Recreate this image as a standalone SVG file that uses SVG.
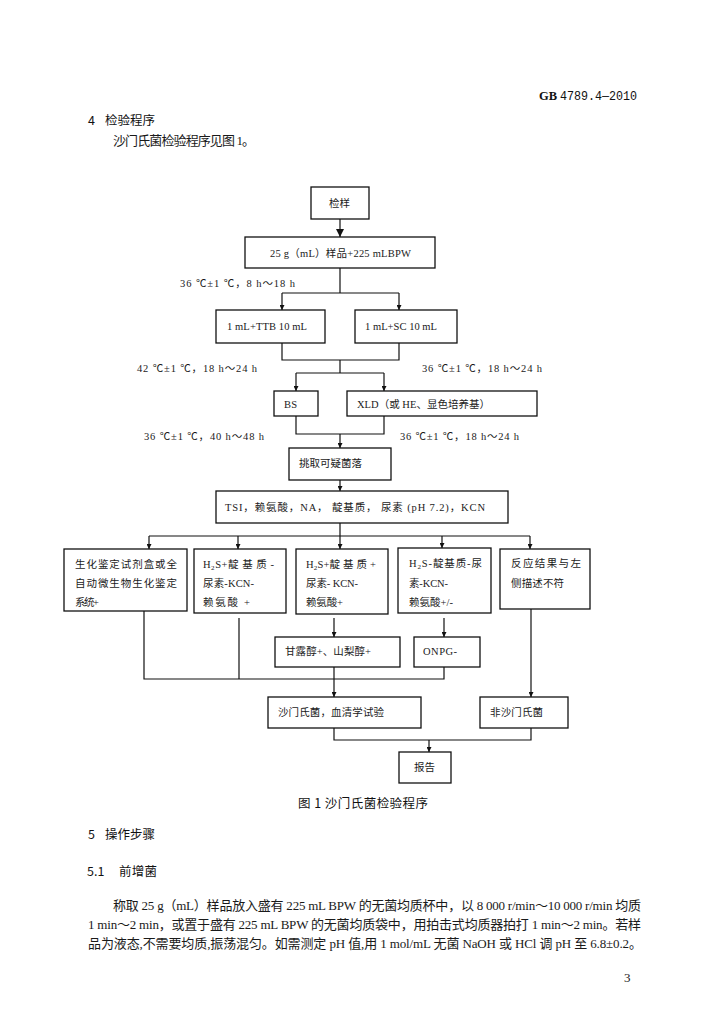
<svg xmlns="http://www.w3.org/2000/svg" width="724" height="1024" viewBox="0 0 724 1024">
<defs>
<style>
.bg{fill:#ffffff}
.box{fill:#ffffff;stroke:#111;stroke-width:1.3}
.ln{fill:none;stroke:#111;stroke-width:1.2}
.t{font-family:"Liberation Serif","Noto Sans CJK SC",serif;font-size:10.5px;fill:#1a1a1a}
.s{font-family:"Liberation Serif","Noto Sans CJK SC",serif;font-size:13px;fill:#1a1a1a}
.h{font-family:"Noto Sans CJK SC","Liberation Sans",sans-serif;font-size:12.5px;fill:#111}
.hm{font-family:"Liberation Mono","Noto Sans CJK SC",monospace;font-size:12.5px;fill:#111}
</style>
<marker id="a" viewBox="0 0 6 6" refX="6" refY="3" markerWidth="5" markerHeight="5" markerUnits="userSpaceOnUse" orient="auto"><path d="M0,0 L6,3 L0,6 z" fill="#111"/></marker>
<marker id="b" viewBox="0 0 6 6" refX="6" refY="3" markerWidth="8" markerHeight="8" markerUnits="userSpaceOnUse" orient="auto"><path d="M0,0 L6,3 L0,6 z" fill="#111"/></marker>
</defs>
<rect class="bg" x="0" y="0" width="724" height="1024"/>

<g id="page-header">
<text x="539" y="100" style="font-family:'Liberation Serif',serif;font-weight:bold;font-size:12.5px;fill:#111">GB</text>
<text x="560" y="100" class="hm" textLength="77" lengthAdjust="spacingAndGlyphs">4789.4—2010</text>
<text x="88" y="125" class="h">4</text>
<text x="105" y="125" class="h" textLength="50">检验程序</text>
<text x="113" y="145" class="s" textLength="142">沙门氏菌检验程序见图 1。</text>
</g>

<g id="connectors">
<line class="ln" x1="340" y1="219" x2="340" y2="237" marker-end="url(#b)"/>
<path class="ln" d="M340,268 V293 M282,293 H399"/>
<line class="ln" x1="282" y1="293" x2="282" y2="310" marker-end="url(#a)"/>
<line class="ln" x1="399" y1="293" x2="399" y2="310" marker-end="url(#a)"/>
<path class="ln" d="M282,343 V360 H399 V343 M340,360 V373 M296,373 H384"/>
<line class="ln" x1="296" y1="373" x2="296" y2="391" marker-end="url(#a)"/>
<line class="ln" x1="384" y1="373" x2="384" y2="391" marker-end="url(#a)"/>
<path class="ln" d="M296,416 V434 H384 V416"/>
<line class="ln" x1="340" y1="434" x2="340" y2="448" marker-end="url(#a)"/>
<line class="ln" x1="340" y1="480" x2="340" y2="491" marker-end="url(#a)"/>
<path class="ln" d="M340,523 V536 M149,536 H530"/>
<line class="ln" x1="149" y1="536" x2="149" y2="549" marker-end="url(#a)"/>
<line class="ln" x1="238" y1="536" x2="238" y2="549" marker-end="url(#a)"/>
<line class="ln" x1="340" y1="536" x2="340" y2="549" marker-end="url(#a)"/>
<line class="ln" x1="442" y1="536" x2="442" y2="548" marker-end="url(#a)"/>
<line class="ln" x1="530" y1="536" x2="530" y2="549" marker-end="url(#a)"/>
<path class="ln" d="M144,611 V679 H444 V667 M239,618 V679"/>
<line class="ln" x1="334" y1="618" x2="334" y2="637" marker-end="url(#a)"/>
<line class="ln" x1="444" y1="618" x2="444" y2="637" marker-end="url(#a)"/>
<line class="ln" x1="334" y1="667" x2="334" y2="697" marker-end="url(#a)"/>
<line class="ln" x1="531" y1="609" x2="531" y2="697" marker-end="url(#a)"/>
<path class="ln" d="M334,728 V740 H531 V728"/>
<line class="ln" x1="429" y1="740" x2="429" y2="752" marker-end="url(#a)"/>
</g>

<g id="cond-labels">
<text x="180" y="287" class="t" textLength="115">36 ℃±1 ℃，8 h～18 h</text>
<text x="137" y="372" class="t" textLength="120">42 ℃±1 ℃，18 h～24 h</text>
<text x="422" y="372" class="t" textLength="120">36 ℃±1 ℃，18 h～24 h</text>
<text x="144" y="440" class="t" textLength="120">36 ℃±1 ℃，40 h～48 h</text>
<text x="400" y="440" class="t" textLength="119">36 ℃±1 ℃，18 h～24 h</text>
</g>

<g id="n-sample"><rect class="box" x="311" y="187" width="58" height="32"/><text x="329" y="207" class="t" textLength="21">检样</text></g>
<g id="n-bpw"><rect class="box" x="245" y="237" width="190" height="31"/><text x="270" y="257" class="t" textLength="141">25 g（mL）样品+225 mLBPW</text></g>
<g id="n-ttb"><rect class="box" x="216" y="310" width="109" height="33"/><text x="227" y="330" class="t" textLength="80">1 mL+TTB 10 mL</text></g>
<g id="n-sc"><rect class="box" x="355" y="310" width="102" height="33"/><text x="365" y="330" class="t" textLength="72">1 mL+SC 10 mL</text></g>
<g id="n-bs"><rect class="box" x="274" y="391" width="44" height="25"/><text x="284" y="408" class="t" textLength="13">BS</text></g>
<g id="n-xld"><rect class="box" x="347" y="391" width="190" height="25"/><text x="357" y="408" class="t" textLength="133">XLD（或 HE、显色培养基）</text></g>
<g id="n-pick"><rect class="box" x="289" y="448" width="102" height="32"/><text x="299" y="467" class="t" textLength="63">挑取可疑菌落</text></g>
<g id="n-tsi"><rect class="box" x="216" y="491" width="292" height="32"/><text x="225" y="511" class="t" textLength="260">TSI，赖氨酸，NA， 靛基质， 尿素 (pH 7.2)，KCN</text></g>

<g id="n-b1"><rect class="box" x="64" y="549" width="123" height="62"/>
<text x="75" y="568" class="t" textLength="102">生化鉴定试剂盒或全</text>
<text x="75" y="587" class="t" textLength="102">自动微生物生化鉴定</text>
<text x="75" y="606" class="t" textLength="24">系统+</text></g>
<g id="n-b2"><rect class="box" x="194" y="549" width="92" height="64"/>
<text x="203" y="568" class="t" textLength="71">H<tspan font-size="7" dy="2">2</tspan><tspan dy="-2">S+靛 基 质 -</tspan></text>
<text x="203" y="587" class="t" textLength="51">尿素-KCN-</text>
<text x="203" y="606" class="t" textLength="47">赖氨酸 +</text></g>
<g id="n-b3"><rect class="box" x="296" y="549" width="92" height="65"/>
<text x="306" y="568" class="t" textLength="70">H<tspan font-size="7" dy="2">2</tspan><tspan dy="-2">S+靛 基 质 +</tspan></text>
<text x="306" y="587" class="t" textLength="52">尿素- KCN-</text>
<text x="306" y="606" class="t" textLength="37">赖氨酸+</text></g>
<g id="n-b4"><rect class="box" x="398" y="548" width="93" height="65"/>
<text x="409" y="567" class="t" textLength="73">H<tspan font-size="7" dy="2">2</tspan><tspan dy="-2">S-靛基质-尿</tspan></text>
<text x="409" y="587" class="t" textLength="39">素-KCN-</text>
<text x="409" y="606" class="t" textLength="44">赖氨酸+/-</text></g>
<g id="n-b5"><rect class="box" x="500" y="549" width="90" height="60"/>
<text x="511" y="567" class="t" textLength="70">反应结果与左</text>
<text x="511" y="587" class="t" textLength="53">侧描述不符</text></g>

<g id="n-mannitol"><rect class="box" x="275" y="637" width="125" height="30"/><text x="285" y="655" class="t" textLength="86">甘露醇+、山梨醇+</text></g>
<g id="n-onpg"><rect class="box" x="414" y="637" width="66" height="30"/><text x="423" y="655" class="t" textLength="34">ONPG-</text></g>
<g id="n-salm"><rect class="box" x="268" y="697" width="153" height="31"/><text x="278" y="716" class="t" textLength="106">沙门氏菌，血清学试验</text></g>
<g id="n-nonsalm"><rect class="box" x="480" y="697" width="88" height="31"/><text x="490" y="716" class="t" textLength="53">非沙门氏菌</text></g>
<g id="n-report"><rect class="box" x="399" y="752" width="52" height="31"/><text x="414" y="771" class="t" textLength="21">报告</text></g>

<g id="caption"><text x="298" y="808" class="h" textLength="130">图 1 沙门氏菌检验程序</text></g>

<g id="body-text">
<text x="88" y="839" class="h">5</text>
<text x="105" y="839" class="h" textLength="50">操作步骤</text>
<text x="87" y="876" class="h">5.1</text>
<text x="119" y="876" class="h" textLength="38">前增菌</text>
<text x="113" y="910" class="s" textLength="528" lengthAdjust="spacing">称取 25 g（mL）样品放入盛有 225 mL BPW 的无菌均质杯中，以 8 000 r/min～10 000 r/min 均质</text>
<text x="88" y="929" class="s" textLength="553" lengthAdjust="spacing">1 min～2 min，或置于盛有 225 mL BPW 的无菌均质袋中，用拍击式均质器拍打 1 min～2 min。若样</text>
<text x="88" y="948" class="s" textLength="554" lengthAdjust="spacing">品为液态,不需要均质,振荡混匀。如需测定 pH 值,用 1 mol/mL 无菌 NaOH 或 HCl 调 pH  至 6.8±0.2。</text>
<text x="624" y="982" class="s" font-size="11">3</text>
</g>
</svg>
